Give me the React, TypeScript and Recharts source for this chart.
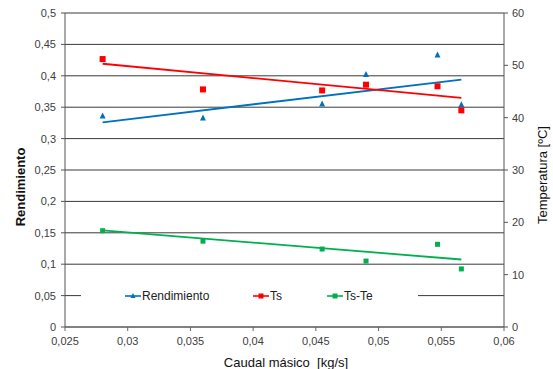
import {
  ComposedChart,
  Scatter,
  Line,
  XAxis,
  YAxis,
  CartesianGrid,
} from "recharts";

const massFlow = [0.028, 0.036, 0.0455, 0.049, 0.0547, 0.0566];
const rendimiento = [0.336, 0.333, 0.355, 0.402, 0.433, 0.354];
const ts = [51.2, 45.4, 45.2, 46.3, 46.0, 41.4];
const tsTe = [18.4, 16.4, 14.9, 12.6, 15.8, 11.1];

// linear trend endpoints
const trendX = [0.028, 0.0566];
const rendTrend = [0.326, 0.394];
const tsTrend = [50.3, 43.8];
const tsTeTrend = [18.45, 12.9];

const xTicks = [0.025, 0.03, 0.035, 0.04, 0.045, 0.05, 0.055, 0.06];
const leftTicks = [0, 0.05, 0.1, 0.15, 0.2, 0.25, 0.3, 0.35, 0.4, 0.45, 0.5];
const rightTicks = [0, 10, 20, 30, 40, 50, 60];

const BLUE = "#0070C0";
const RED = "#FF0000";
const GREEN = "#00B050";
const FONT = "'Liberation Sans', Arial, sans-serif";

const toPoints = (ys: number[]) => massFlow.map((x, i) => ({ x, y: ys[i] }));
const toTrend = (ys: number[]) => trendX.map((x, i) => ({ x, y: ys[i] }));

const comma = (v: number) => String(v).replace(".", ",");
const tick = { fill: "#404040", fontSize: 11, fontFamily: FONT };

const triangle = (color: string) => (p: any) => (
  <path d={`M${p.cx},${p.cy - 3.5} L${p.cx + 3},${p.cy + 2.5} L${p.cx - 3},${p.cy + 2.5} Z`} fill={color} />
);
const square = (color: string, s = 6) => (p: any) => (
  <rect x={p.cx - s / 2} y={p.cy - s / 2} width={s} height={s} fill={color} />
);

const legendItems = [
  { name: "Rendimiento", color: BLUE, kind: "tri", width: 128 },
  { name: "Ts", color: RED, kind: "sq", width: 74 },
  { name: "Ts-Te", color: GREEN, kind: "sq", width: 60 },
];

function LegendBox() {
  return (
    <div
      style={{
        position: "absolute",
        left: 81,
        top: 286,
        width: 337,
        height: 20,
        background: "#fff",
        display: "flex",
        alignItems: "center",
        paddingLeft: 44,
        boxSizing: "border-box",
        fontFamily: FONT,
        fontSize: 12,
        color: "#222",
      }}
    >
      {legendItems.map((it) => (
        <div key={it.name} style={{ display: "flex", alignItems: "center", width: it.width }}>
          <svg width={16} height={10}>
            <line x1={0} y1={5} x2={16} y2={5} stroke={it.color} strokeWidth={1.6} />
            {it.kind === "tri" ? (
              <path d="M8,2 L10.5,7 L5.5,7 Z" fill={it.color} />
            ) : (
              <rect x={5.5} y={2.5} width={5} height={5} fill={it.color} />
            )}
          </svg>
          <span style={{ marginLeft: 1 }}>{it.name}</span>
        </div>
      ))}
    </div>
  );
}

const title: React.CSSProperties = {
  position: "absolute",
  fontFamily: FONT,
  fontSize: 13,
  color: "#111",
  whiteSpace: "nowrap",
  transform: "translate(-50%, -50%)",
};

export default function App() {
  return (
    <div style={{ position: "absolute", left: 0, top: 0, width: 553, height: 369, background: "#fff" }}>
      <ComposedChart width={553} height={369} margin={{ top: 13, right: 0, bottom: 0, left: 15 }}>
        <CartesianGrid yAxisId="left" horizontal vertical={false} stroke="#3a3a3a" strokeWidth={1} />
        <XAxis
          dataKey="x"
          type="number"
          domain={[0.025, 0.06]}
          ticks={xTicks}
          tickFormatter={comma}
          tick={tick}
          tickSize={4}
          tickMargin={6}
          height={42}
          stroke="#666"
          interval={0}
        />
        <YAxis
          yAxisId="left"
          type="number"
          domain={[0, 0.5]}
          ticks={leftTicks}
          tickFormatter={comma}
          tick={tick}
          tickSize={4}
          tickMargin={5}
          width={50}
          stroke="#555"
          interval={0}
        />
        <YAxis
          yAxisId="right"
          orientation="right"
          type="number"
          domain={[0, 60]}
          ticks={rightTicks}
          tick={tick}
          tickSize={4}
          tickMargin={4}
          width={49}
          stroke="#555"
          interval={0}
        />
        <Line yAxisId="left" data={toTrend(rendTrend)} dataKey="y" stroke={BLUE} strokeWidth={1.8} dot={false} isAnimationActive={false} />
        <Line yAxisId="right" data={toTrend(tsTrend)} dataKey="y" stroke={RED} strokeWidth={1.8} dot={false} isAnimationActive={false} />
        <Line yAxisId="right" data={toTrend(tsTeTrend)} dataKey="y" stroke={GREEN} strokeWidth={1.8} dot={false} isAnimationActive={false} />
        <Scatter yAxisId="left" data={toPoints(rendimiento)} dataKey="y" shape={triangle(BLUE)} isAnimationActive={false} />
        <Scatter yAxisId="right" data={toPoints(ts)} dataKey="y" shape={square(RED, 6)} isAnimationActive={false} />
        <Scatter yAxisId="right" data={toPoints(tsTe)} dataKey="y" shape={square(GREEN, 5)} isAnimationActive={false} />
      </ComposedChart>
      <LegendBox />
      <div style={{ ...title, left: 20, top: 187, fontWeight: "bold", transform: "translate(-50%, -50%) rotate(-90deg)" }}>Rendimiento</div>
      <div style={{ ...title, left: 542, top: 175, transform: "translate(-50%, -50%) rotate(-90deg)" }}>Temperatura [ºC]</div>
      <div style={{ ...title, left: 286, top: 362, whiteSpace: "pre" }}>{"Caudal másico  [kg/s]"}</div>
    </div>
  );
}
